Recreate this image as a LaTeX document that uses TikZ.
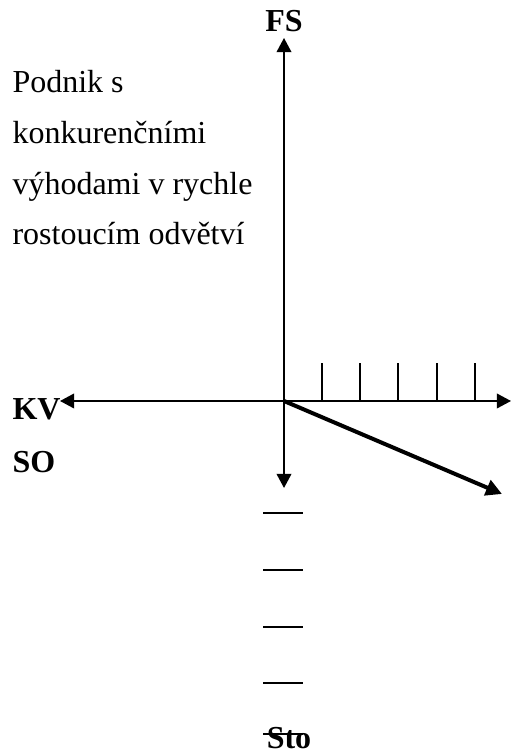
\documentclass[tikz,border=0pt]{standalone}
\usepackage{fontspec}
\setmainfont{Liberation Serif}
\usetikzlibrary{arrows.meta}
\tikzset{
  axislabel/.style={font=\fontsize{12}{14}\selectfont\bfseries, inner sep=0pt},
  notetext/.style={font=\fontsize{12}{19}\selectfont, align=left, inner sep=0pt},
  axisflow/.style={-{Triangle[length=5.3pt,width=5.5pt]}, line width=.65pt},
  thickflow/.style={-{Triangle[length=6pt,width=6pt]}, line width=1.5pt},
  tickline/.style={line width=.55pt}
}

\begin{document}
\begin{tikzpicture}[x=.375pt,y=.375pt]
  % frame of the reference, one unit = one pixel
  \useasboundingbox (0,0) rectangle (513,754);

  % axes
  \coordinate (o) at (284,353);
  \coordinate (top) at (284,716);
  \coordinate (bottom) at (284,266);
  \coordinate (left) at (60,353);
  \coordinate (right) at (511,353);
  \coordinate (diag) at (502,260);
  \draw[axisflow] (o) -- (top);
  \draw[axisflow] (o) -- (bottom);
  \draw[axisflow, {Triangle[length=5.3pt,width=5.5pt]}-{Triangle[length=5.3pt,width=5.5pt]}]
    (left) -- (right);
  \draw[thickflow] (o) -- (diag);

  % ticks above the right half-axis, dashes below the lower one
  \foreach \x in {322,360,398,437,475}
    \draw[tickline] (\x,353) -- (\x,391);
  \foreach \y in {241,184,127,71,20}
    \draw[tickline] (263,\y) -- (303,\y);

  % labels
  \node[axislabel, anchor=base] (fs) at (284,722) {FS};
  \node[axislabel, anchor=base west] (kv) at (12,334) {KV};
  \node[axislabel, anchor=base west] (so) at (12,281) {SO};
  \node[axislabel, anchor=base] (sto) at (289,5) {Sto};
  \node[notetext, anchor=base west] (note) at (12,509)
    {Podnik s\\konkurenčními\\výhodami v rychle\\rostoucím odvětví};
\end{tikzpicture}
\end{document}
